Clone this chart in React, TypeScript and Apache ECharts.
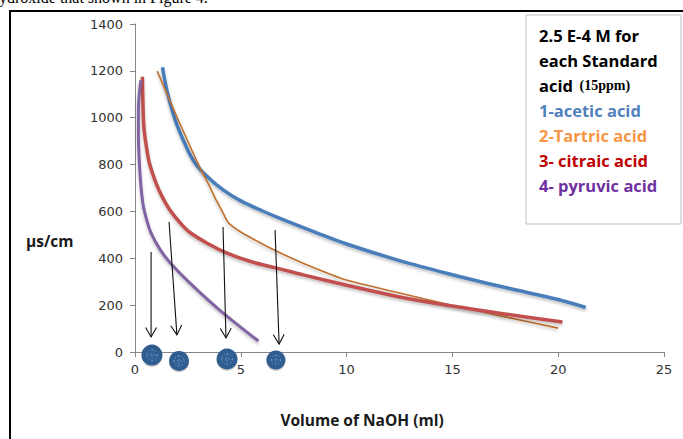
import React, { useEffect, useRef } from "react";
import * as echarts from "echarts";

const aceticX = [1.3, 1.5, 1.9, 2.4, 2.85, 3.5, 4.2, 5, 6, 7, 8.5, 10, 12.5, 15, 17.5, 20, 21.3];
const aceticY = [1215, 1120, 990, 880, 805, 742, 690, 645, 603, 565, 512, 461, 390, 330, 275, 224, 190];

const tartaricX = [1.05, 2.0, 3.0, 3.5, 3.8, 4.1, 4.3, 4.45, 5, 6, 6.7, 8, 10, 12.5, 15, 17.5, 20];
const tartaricY = [1199, 1000, 800, 712, 655, 605, 568, 548, 512, 462, 430, 377, 307, 252, 198, 150, 102];

const citricX = [0.35, 0.37, 0.42, 0.55, 0.7, 1.0, 1.3, 1.65, 2.1, 2.6, 3.5, 4.35, 5.5, 6.7, 8, 10, 12.5, 15, 17.5, 20.2];
const citricY = [1175, 1080, 960, 870, 800, 720, 660, 606, 555, 510, 460, 422, 385, 358, 328, 285, 235, 196, 162, 128];

const pyruvicX = [0.28, 0.2, 0.16, 0.16, 0.2, 0.27, 0.39, 0.55, 0.75, 1.18, 1.65, 2.6, 4.0, 5.83];
const pyruvicY = [1160, 1100, 1030, 930, 820, 720, 625, 565, 510, 438, 382, 294, 179, 47];

// arrows: [x1, y1, x2, y2]
const arrows = [
  [0.76, 427, 0.76, 64],
  [1.61, 555, 1.98, 73],
  [4.16, 534, 4.3, 60],
  [6.62, 521, 6.81, 34],
];
// dots: [x, y, radius]
const dots = [
  [0.8, -13, 10.5],
  [2.08, -38, 10],
  [4.35, -30, 10.5],
  [6.66, -34, 9.5],
];

const legendLines = [
  { text: "1-acetic acid", color: "#4f81bd" },
  { text: "2-Tartric acid", color: "#f79646" },
  { text: "3- citraic acid", color: "#c00000" },
  { text: "4- pyruvic acid", color: "#7030a0" },
];

const zip = (xs: number[], ys: number[]) => xs.map((x, i) => [x, ys[i]]);

export default function App() {
  const ref = useRef<HTMLDivElement>(null);
  useEffect(() => {
    if (!ref.current) return;
    const chart = echarts.init(ref.current, null, { renderer: "svg" });
    const shadow = { shadowColor: "rgba(0,0,0,0.25)", shadowBlur: 3, shadowOffsetY: 2 };
    const lineSeries = (name: string, data: number[][], color: string, width: number, smooth: number) => ({
      type: "line",
      name,
      data,
      smooth,
      showSymbol: false,
      symbol: "none",
      lineStyle: { color, width, ...shadow },
      z: 3,
    });
    const axisFont = { fontFamily: "DejaVu Sans", fontSize: 13, color: "#333" };
    const boldFont = "'Open Sans'";
    const option: any = {
      animation: false,
      grid: { left: 135, right: 19, top: 24, bottom: 87 },
      xAxis: {
        type: "value",
        min: 0,
        max: 25,
        interval: 5,
        axisLine: { show: true, lineStyle: { color: "#868686", width: 1 } },
        axisTick: { show: true, inside: false, length: 5, lineStyle: { color: "#868686" } },
        splitLine: { show: false },
        axisLabel: { ...axisFont, margin: 11, formatter: (v: number) => String(v) },
      },
      yAxis: {
        type: "value",
        min: 0,
        max: 1400,
        interval: 200,
        axisLine: { show: true, lineStyle: { color: "#868686", width: 1 } },
        axisTick: { show: true, inside: false, length: 5, lineStyle: { color: "#868686" } },
        splitLine: { show: false },
        axisLabel: { ...axisFont, margin: 12, formatter: (v: number) => String(v) },
      },
      series: [
        lineSeries("acetic", zip(aceticX, aceticY), "#4a7ebb", 3.5, 0.35),
        lineSeries("tartaric", zip(tartaricX, tartaricY), "#c0702e", 1.6, 0.2),
        lineSeries("citric", zip(citricX, citricY), "#c0504d", 3.5, 0.35),
        lineSeries("pyruvic", zip(pyruvicX, pyruvicY), "#8064a2", 3, 0.35),
        {
          type: "custom",
          name: "arrows",
          clip: false,
          data: arrows,
          encode: { x: [0, 2], y: [1, 3] },
          z: 5,
          renderItem: (params: any, api: any) => {
            const p1 = api.coord([api.value(0), api.value(1)]);
            const p2 = api.coord([api.value(2), api.value(3)]);
            const ang = Math.atan2(p2[1] - p1[1], p2[0] - p1[0]);
            const len = 11;
            const spread = 0.52;
            const a1 = [p2[0] - len * Math.cos(ang - spread), p2[1] - len * Math.sin(ang - spread)];
            const a2 = [p2[0] - len * Math.cos(ang + spread), p2[1] - len * Math.sin(ang + spread)];
            return {
              type: "group",
              children: [
                { type: "line", shape: { x1: p1[0], y1: p1[1], x2: p2[0], y2: p2[1] }, style: { stroke: "#111", lineWidth: 1.1 } },
                { type: "polyline", shape: { points: [a1, p2, a2] }, style: { stroke: "#111", fill: null, lineWidth: 1.1 } },
              ],
            };
          },
        },
        {
          type: "custom",
          name: "dots",
          clip: false,
          data: dots,
          encode: { x: 0, y: 1 },
          z: 6,
          renderItem: (params: any, api: any) => {
            const p = api.coord([api.value(0), api.value(1)]);
            const r = api.value(2);
            return {
              type: "group",
              children: [
                { type: "circle", shape: { cx: p[0], cy: p[1] + 1.5, r }, style: { fill: "rgba(0,0,0,0.18)" } },
                { type: "circle", shape: { cx: p[0], cy: p[1], r }, style: { fill: "#2f5d90" } },
                { type: "circle", shape: { cx: p[0], cy: p[1], r: r * 0.5 }, style: { fill: null, stroke: "#6f98c8", lineWidth: 1, lineDash: [1.5, 2] } },
                { type: "line", shape: { x1: p[0] - r * 0.55, y1: p[1], x2: p[0] + r * 0.55, y2: p[1] }, style: { stroke: "#6f98c8", lineWidth: 1, lineDash: [1.5, 2] } },
                { type: "line", shape: { x1: p[0], y1: p[1] - r * 0.55, x2: p[0], y2: p[1] + r * 0.55 }, style: { stroke: "#6f98c8", lineWidth: 1, lineDash: [1.5, 2] } },
              ],
            };
          },
        },
      ],
      graphic: [
        {
          type: "text",
          left: -9,
          top: -11,
          style: { text: "hydroxide that shown in Figure 4.", font: "16px 'Liberation Serif'", fill: "#000" },
          silent: true,
        },
        {
          type: "rect",
          shape: { x: 10, y: 11, width: 690, height: 450 },
          style: { fill: null, stroke: "#000", lineWidth: 2 },
          silent: true,
        },
        {
          type: "rect",
          shape: { x: 526, y: 15, width: 155, height: 209 },
          style: { fill: "#fff", stroke: "#bfbfbf", lineWidth: 1 },
          z: 10,
          silent: true,
        },
        {
          type: "text",
          x: 539,
          y: 35,
          z: 11,
          style: { text: "2.5 E-4 M for", font: `bold 16.5px ${boldFont}`, fill: "#000", verticalAlign: "middle" },
        },
        {
          type: "text",
          x: 539,
          y: 60,
          z: 11,
          style: { text: "each Standard", font: `bold 16.5px ${boldFont}`, fill: "#000", verticalAlign: "middle" },
        },
        {
          type: "text",
          x: 539,
          y: 85,
          z: 11,
          style: {
            text: "{a|acid}  {b|(15ppm)}",
            verticalAlign: "middle",
            rich: {
              a: { font: `bold 16.5px ${boldFont}`, fill: "#000", color: "#000" },
              b: { font: "bold 14px 'Liberation Serif'", fill: "#000", color: "#000" },
            },
          },
        },
        ...legendLines.map((l, i) => ({
          type: "text",
          x: 539,
          y: 110 + i * 25,
          z: 11,
          style: { text: l.text, font: `bold 16.5px ${boldFont}`, fill: l.color, verticalAlign: "middle" },
        })),
        {
          type: "text",
          x: 26,
          y: 241,
          style: { text: "µs/cm", font: `bold 15.5px ${boldFont}`, fill: "#1a1a1a", verticalAlign: "middle" },
        },
        {
          type: "text",
          x: 362,
          y: 420,
          style: { text: "Volume of NaOH (ml)", font: `bold 15.5px ${boldFont}`, fill: "#1a1a1a", align: "center", verticalAlign: "middle" },
        },
      ],
    };
    chart.setOption(option);
    return () => chart.dispose();
  }, []);
  return (
    <div
      ref={ref}
      style={{ position: "absolute", left: 0, top: 0, width: 683, height: 439, background: "#fff", overflow: "hidden" }}
    />
  );
}
